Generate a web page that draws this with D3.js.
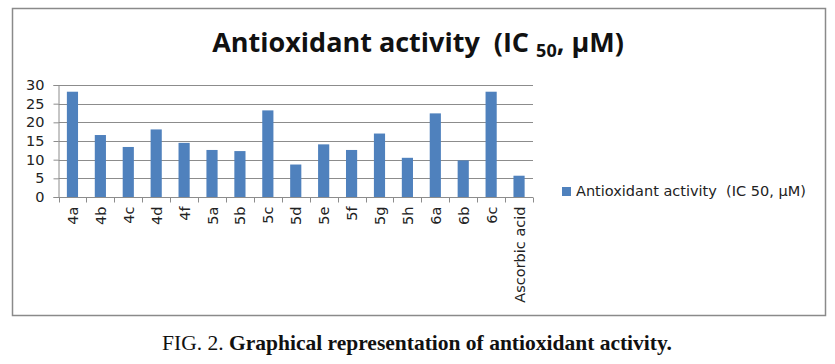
<!DOCTYPE html>
<html>
<head>
<meta charset="utf-8">
<script src="https://cdn.jsdelivr.net/npm/d3@7"></script>
<style>
  body { margin: 0; background: #fff; }
  svg { display: block; }
  text { white-space: pre; }
</style>
</head>
<body>
<svg id="chart"></svg>
<script>
const compounds = ["4a", "4b", "4c", "4d", "4f", "5a", "5b", "5c", "5d", "5e", "5f", "5g", "5h", "6a", "6b", "6c", "Ascorbic acid"]
const ic50 = [28.2, 16.6, 13.4, 18.1, 14.5, 12.6, 12.3, 23.2, 8.7, 14.1, 12.6, 17.0, 10.5, 22.4, 9.8, 28.2, 5.7]
const yTicks = [0, 5, 10, 15, 20, 25, 30]
const seriesName = "Antioxidant activity  (IC 50, µM)"

var svgWidth = 835, svgHeight = 364
var svg = d3.select("#chart")
  .attr("width", svgWidth)
  .attr("height", svgHeight)

// chart frame
svg.append("rect")
  .attr("x", 12.5).attr("y", 8.5)
  .attr("width", 813).attr("height", 307)
  .attr("fill", "none")
  .attr("stroke", "#8a8a8a")
  .attr("stroke-width", 1.5)

var plot = { left: 58.5, right: 533, top: 85, bottom: 197 }

let x = d3.scaleBand()
  .domain(compounds)
  .range([plot.left, plot.right])
  .paddingInner(0.6)
  .paddingOuter(0.3)
let xEdges = d3.scaleBand().domain(compounds).range([plot.left, plot.right])
let y = d3.scaleLinear().domain([0, 30]).range([plot.bottom, plot.top])

// gridlines
svg.append("g")
  .selectAll("line")
  .data(yTicks.filter(d => d > 0))
  .join("line")
  .attr("x1", plot.left).attr("x2", plot.right)
  .attr("y1", d => Math.round(y(d)) + 0.5)
  .attr("y2", d => Math.round(y(d)) + 0.5)
  .attr("stroke", "#8c8c8c")
  .attr("stroke-width", 1)

// y axis
const yAxis = svg.append("g")
  .attr("transform", "translate(" + plot.left + ",0)")
  .call(d3.axisLeft(y).tickValues(yTicks).tickSize(5).tickPadding(9))
yAxis.select(".domain").attr("stroke", "#8c8c8c")
yAxis.selectAll(".tick line").attr("stroke", "#8c8c8c")
yAxis.selectAll(".tick text")
  .attr("font-family", "DejaVu Sans")
  .attr("font-size", 14.5)
  .attr("fill", "#222")

// bars
svg.append("g")
  .selectAll("rect")
  .data(compounds)
  .join("rect")
  .attr("x", (d, i) => x(d))
  .attr("y", (d, i) => y(ic50[i]))
  .attr("width", x.bandwidth())
  .attr("height", (d, i) => y(0) - y(ic50[i]))
  .attr("fill", "#4f81bd")

// x axis
const xAxisG = svg.append("g")
  .attr("transform", "translate(0," + (plot.bottom + 0.5) + ")")
xAxisG.append("line")
  .attr("x1", plot.left).attr("x2", plot.right)
  .attr("stroke", "#8c8c8c")
xAxisG.selectAll(".edge")
  .data(compounds.concat(["end"]))
  .join("line")
  .attr("class", "edge")
  .attr("x1", (d, i) => Math.round(plot.left + i * xEdges.step()) + 0.5)
  .attr("x2", (d, i) => Math.round(plot.left + i * xEdges.step()) + 0.5)
  .attr("y1", 0).attr("y2", 5)
  .attr("stroke", "#8c8c8c")
xAxisG.selectAll(".lbl")
  .data(compounds)
  .join("text")
  .attr("class", "lbl")
  .attr("transform", d => "translate(" + (xEdges(d) + xEdges.bandwidth() / 2 + 5.5) + ",9) rotate(-90)")
  .attr("text-anchor", "end")
  .attr("font-family", "DejaVu Sans")
  .attr("font-size", 14.5)
  .attr("fill", "#222")
  .text(d => d)

// title
const title = svg.append("text")
  .attr("x", 418).attr("y", 52)
  .attr("text-anchor", "middle")
  .attr("font-family", "Open Sans")
  .attr("font-weight", "bold")
  .attr("font-size", 27)
  .attr("fill", "#111")
title.append("tspan").text("Antioxidant activity  (IC ")
title.append("tspan").attr("font-size", 18).attr("dy", 5).text("50")
title.append("tspan").attr("dy", -5).text(", µM)")

// legend
svg.append("rect")
  .attr("x", 562).attr("y", 187)
  .attr("width", 9).attr("height", 9)
  .attr("fill", "#4f81bd")
svg.append("text")
  .attr("x", 576).attr("y", 196)
  .attr("font-family", "DejaVu Sans")
  .attr("font-size", 14.5)
  .attr("fill", "#222")
  .text(seriesName)

// caption
const cap = svg.append("text")
  .attr("x", 417).attr("y", 350)
  .attr("text-anchor", "middle")
  .attr("font-family", "Liberation Serif")
  .attr("font-size", 21.5)
  .attr("fill", "#111")
cap.append("tspan").text("FIG. 2. ")
cap.append("tspan").attr("font-weight", "bold").text("Graphical representation of antioxidant activity.")
</script>
</body>
</html>
